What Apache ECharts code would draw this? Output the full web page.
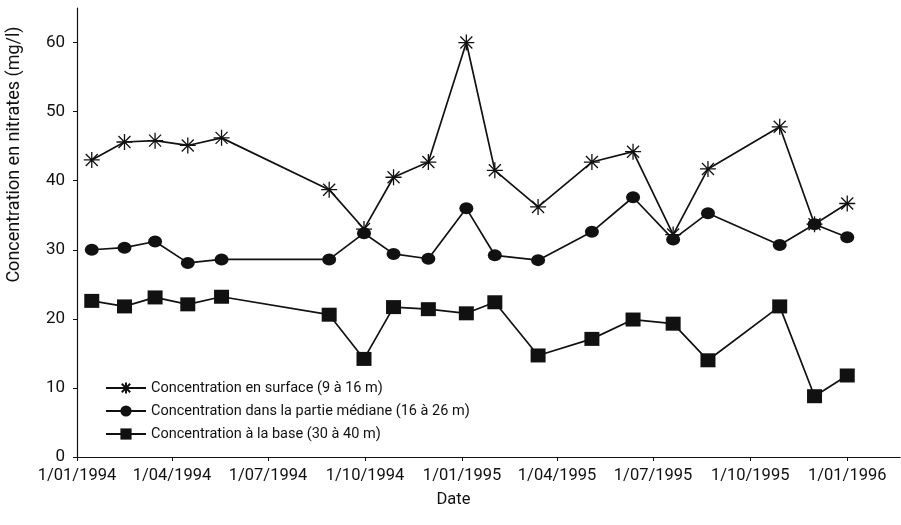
<!DOCTYPE html>
<html>
<head>
<meta charset="utf-8">
<script src="https://cdn.jsdelivr.net/npm/echarts@6/dist/echarts.min.js"></script>
<style>
html,body{margin:0;padding:0;background:#fff;}
#chart{width:901px;height:525px;}
</style>
</head>
<body>
<div id="chart"></div>
<script>
// Sampling dates (shared by all three series)
var dates = ['1994-01-15','1994-02-15','1994-03-16','1994-04-16','1994-05-18','1994-08-28','1994-09-30','1994-10-28','1994-11-30','1995-01-05','1995-02-01','1995-03-14','1995-05-04','1995-06-12','1995-07-20','1995-08-22','1995-10-29','1995-12-01','1996-01-01'];
// Nitrate concentration (mg/l)
var surface = [43.0, 45.6, 45.8, 45.1, 46.2, 38.7, 33.0, 40.5, 42.7, 60.0, 41.5, 36.2, 42.7, 44.2, 32.2, 41.7, 47.8, 33.7, 36.7];
var mediane = [30.0, 30.3, 31.2, 28.1, 28.6, 28.6, 32.4, 29.4, 28.7, 36.0, 29.2, 28.5, 32.6, 37.6, 31.5, 35.3, 30.7, 33.7, 31.8];
var base = [22.6, 21.8, 23.1, 22.1, 23.2, 20.6, 14.2, 21.7, 21.4, 20.8, 22.4, 14.7, 17.1, 19.9, 19.3, 14.0, 21.8, 8.8, 11.8];
// Tick labels of the date axis
var tickDates = ['1994-01-01','1994-04-01','1994-07-01','1994-10-01','1995-01-01','1995-04-01','1995-07-01','1995-10-01','1996-01-01'];
var seriesNames = ['Concentration en surface (9 à 16 m)','Concentration dans la partie médiane (16 à 26 m)','Concentration à la base (30 à 40 m)'];

function ts(s){ var p = s.split('-'); return new Date(+p[0], +p[1]-1, +p[2]).getTime(); }
function pairs(vals){ return dates.map(function(d,i){ return [ts(d), vals[i]]; }); }
function fmt(v){ var d = new Date(v); var m = d.getMonth()+1; return d.getDate() + '/' + (m<10?'0':'') + m + '/' + d.getFullYear(); }

var FONT = "Roboto, 'Liberation Sans', sans-serif";
var INK = '#111';
var star = 'path://M0,-10L0,10M-10,0L10,0M-7.5,-7.5L7.5,7.5M-7.5,7.5L7.5,-7.5';

var chart = echarts.init(document.getElementById('chart'), null, {renderer:'canvas'});
chart.setOption({
  backgroundColor:'#fff',
  animation:false,
  textStyle:{fontFamily:FONT, color:INK},
  grid:{left:77, right:1, top:8, bottom:68, containLabel:false, outerBoundsMode:'none'},
  legend:{
    orient:'vertical', left:100, top:373,
    itemWidth:40, itemHeight:14, itemGap:3,
    textStyle:{fontFamily:FONT, fontSize:14.5, lineHeight:20, color:INK},
    data:seriesNames
  },
  xAxis:{
    type:'value',
    min:ts('1994-01-01'), max:ts('1996-02-20'),
    name:'Date', nameLocation:'middle', nameGap:34,
    nameTextStyle:{fontFamily:FONT, fontSize:16.5, color:INK, padding:[0,70,0,0]},
    axisLine:{lineStyle:{color:INK, width:1.2}},
    axisTick:{show:true, customValues:tickDates.map(ts), length:4, lineStyle:{color:INK}},
    axisLabel:{customValues:tickDates.map(ts), formatter:fmt, showMinLabel:true, showMaxLabel:true, hideOverlap:false,
               fontFamily:FONT, fontSize:16.5, color:INK, margin:10},
    splitLine:{show:false}
  },
  yAxis:{
    type:'value', min:0, max:65, interval:10,
    name:'Concentration en nitrates (mg/l)', nameLocation:'middle', nameGap:54,
    nameTextStyle:{fontFamily:FONT, fontSize:18, color:INK, padding:[0,0,0,156]},
    axisLine:{show:true, lineStyle:{color:INK, width:1.2}},
    axisTick:{show:true, length:4, lineStyle:{color:INK}},
    axisLabel:{showMaxLabel:false, fontFamily:FONT, fontSize:17, color:INK, margin:12},
    splitLine:{show:false}
  },
  series:[
    {name:seriesNames[0], type:'line', data:pairs(surface), symbol:star, symbolSize:16,
     lineStyle:{color:INK, width:1.7}, itemStyle:{color:INK, borderColor:INK, borderWidth:1.3}},
    {name:seriesNames[1], type:'line', data:pairs(mediane), symbol:'circle', symbolSize:[14,12],
     lineStyle:{color:INK, width:1.7}, itemStyle:{color:INK, borderWidth:0}},
    {name:seriesNames[2], type:'line', data:pairs(base), symbol:'rect', symbolSize:[15,14],
     lineStyle:{color:INK, width:1.7}, itemStyle:{color:INK, borderWidth:0}}
  ]
});
</script>
</body>
</html>
